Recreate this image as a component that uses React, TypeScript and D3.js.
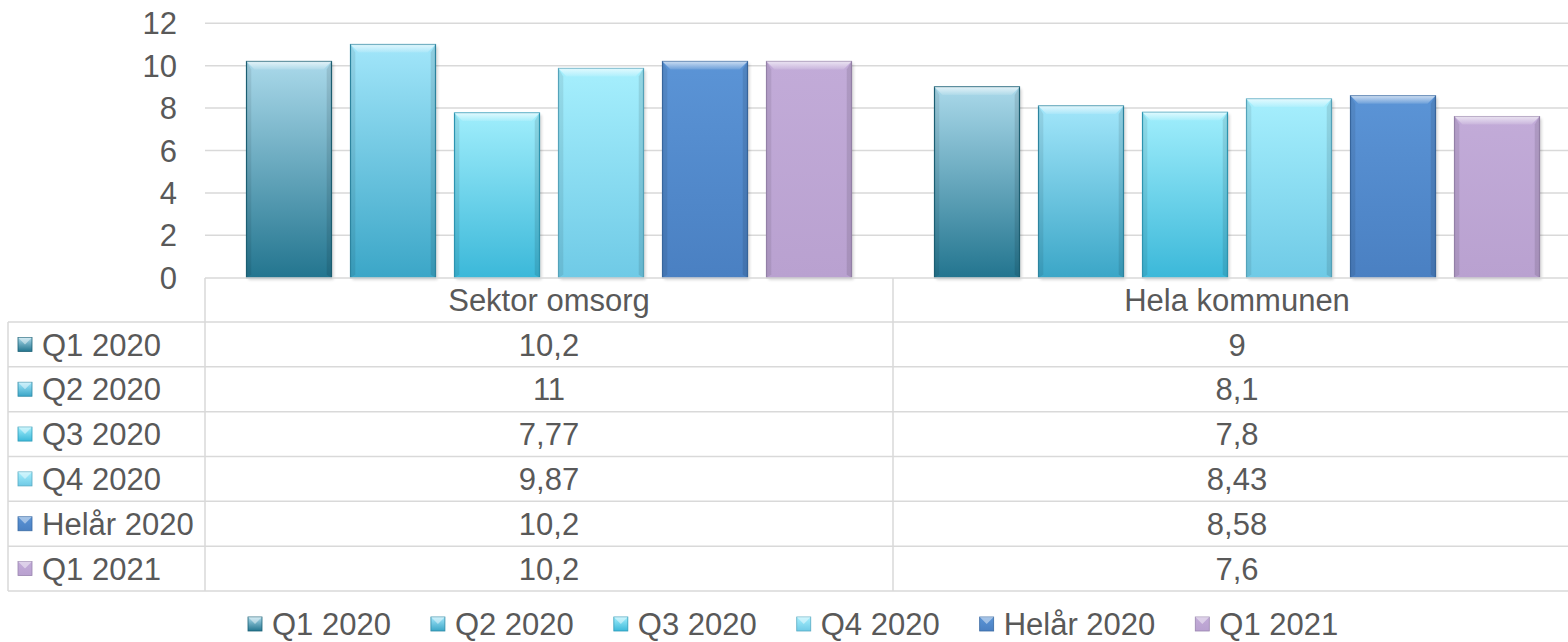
import React from "react";
import * as d3 from "d3";

const categories = ["Sektor omsorg", "Hela kommunen"];
const series = ["Q1 2020", "Q2 2020", "Q3 2020", "Q4 2020", "Helår 2020", "Q1 2021"];
const sektorOmsorg = [10.2, 11, 7.77, 9.87, 10.2, 10.2];
const helaKommunen = [9, 8.1, 7.8, 8.43, 8.58, 7.6];
const valueLabels = [
  ["10,2", "9"],
  ["11", "8,1"],
  ["7,77", "7,8"],
  ["9,87", "8,43"],
  ["10,2", "8,58"],
  ["10,2", "7,6"],
];
const yTicks = [0, 2, 4, 6, 8, 10, 12];

const colorsTop = ["#aad9ea", "#a2e6fa", "#a0eefc", "#a6effd", "#5b94d6", "#c2abd8"];
const colorsBottom = ["#23758f", "#3ba6c7", "#3bb8d9", "#6fcae6", "#4a80c2", "#b9a1d0"];
const colorsStroke = ["#1d6277", "#2f8aa6", "#2f9bb8", "#58aac2", "#3a6aa3", "#9a86ae"];

const W = 1568;
const H = 642;
const FONT = "'Liberation Sans', Arial, sans-serif";
const TEXT = "#595959";
const GRID = "#d9d9d9";

export default function App() {
  const plotLeft = 205;
  const plotRight = 1581;
  const y = d3.scaleLinear().domain([0, 12]).range([277.7, 23.3]);
  const x0 = d3.scaleBand<string>().domain(categories).range([plotLeft, plotRight]).padding(0);
  const x1 = d3
    .scaleBand<string>()
    .domain(series)
    .range([0, x0.bandwidth()])
    .paddingInner(0.1827)
    .paddingOuter(0.399);

  const dataByCat = [sektorOmsorg, helaKommunen];

  const tableTop = 278;
  const headerBottom = 322;
  const rowH = (591 - headerBottom) / series.length;
  const rowY = d3.range(series.length + 1).map((i) => headerBottom + i * rowH);
  const tableLeft = 8;

  // legend layout
  const legendY = 624;
  const legendFont = 31;
  const measure = (s: string) => {
    const w: Record<string, number> = {
      Q: 0.778, "1": 0.556, "2": 0.556, "0": 0.556, "3": 0.556, "4": 0.556, " ": 0.278,
      H: 0.722, e: 0.556, l: 0.222, "å": 0.556, r: 0.333,
    };
    return s.split("").reduce((a, c) => a + (w[c] ?? 0.556), 0) * legendFont;
  };
  const iconW = 15;
  const iconGap = 9;
  const itemGap = 40;
  const itemWidths = series.map((s) => iconW + iconGap + measure(s));
  const legendStart = 248;
  const legendX: number[] = [];
  let acc = legendStart;
  itemWidths.forEach((w) => {
    legendX.push(acc);
    acc += w + itemGap;
  });

  const Icon = ({ x, yc, i }: { x: number; yc: number; i: number }) => {
    const s = 14;
    const top = yc - s / 2;
    return (
      <g>
        <rect x={x} y={top} width={s} height={s} fill={`url(#grad${i})`} stroke={colorsStroke[i]} strokeWidth={0.8} />
        <polygon
          points={`${x},${top} ${x + s},${top} ${x + s / 2},${top + s / 2}`}
          fill="#ffffff"
          opacity={0.45}
        />
      </g>
    );
  };

  return (
    <svg width={W} height={H} style={{ position: "absolute", left: 0, top: 0, background: "#fff" }} fontFamily={FONT}>
      <defs>
        {series.map((s, i) => (
          <linearGradient key={s} id={`grad${i}`} x1="0" y1="0" x2="0" y2="1">
            <stop offset="0%" stopColor={colorsTop[i]} />
            <stop offset="100%" stopColor={colorsBottom[i]} />
          </linearGradient>
        ))}
        <linearGradient id="hl" x1="0" y1="0" x2="0" y2="1">
          <stop offset="0%" stopColor="#fff" stopOpacity={0.9} />
          <stop offset="100%" stopColor="#fff" stopOpacity={0.15} />
        </linearGradient>
        <filter id="sh" x="-10%" y="-10%" width="120%" height="120%">
          <feGaussianBlur stdDeviation="1.5" />
        </filter>
      </defs>

      {yTicks.filter((t) => t > 0).map((t) => (
        <line key={t} x1={plotLeft} x2={plotRight} y1={y(t)} y2={y(t)} stroke={GRID} strokeWidth={1.5} />
      ))}

      {yTicks.map((t) => (
        <text key={t} x={177} y={y(t)} dy="0.36em" textAnchor="end" fontSize={31} fill={TEXT}>
          {t}
        </text>
      ))}

      {categories.map((c, ci) => (
        <g key={c} transform={`translate(${x0(c)},0)`}>
          {series.map((s, si) => {
            const v = dataByCat[ci][si];
            const bx = x1(s) as number;
            const bw = x1.bandwidth();
            const by = y(v);
            const bh = y(0) - by;
            const b = 8;
            return (
              <g key={s}>
                <rect x={bx + 2} y={by + 2} width={bw} height={bh} fill="#000" opacity={0.18} filter="url(#sh)" />
                <rect x={bx} y={by} width={bw} height={bh} fill={`url(#grad${si})`} stroke={colorsStroke[si]} strokeWidth={1.2} />
                <polygon
                  points={`${bx},${by} ${bx + bw},${by} ${bx + bw - b},${by + b} ${bx + b},${by + b}`}
                  fill="url(#hl)"
                  opacity={0.75}
                />
                <polygon
                  points={`${bx},${by} ${bx + b * 0.6},${by + b} ${bx + b * 0.6},${by + bh - 3} ${bx},${by + bh}`}
                  fill="#000"
                  opacity={0.08}
                />
                <polygon
                  points={`${bx + bw},${by} ${bx + bw - b * 0.6},${by + b} ${bx + bw - b * 0.6},${by + bh - 3} ${bx + bw},${by + bh}`}
                  fill="#000"
                  opacity={0.1}
                />
              </g>
            );
          })}
        </g>
      ))}

      <g stroke={GRID} strokeWidth={1.5}>
        <line x1={plotLeft} x2={plotRight} y1={tableTop} y2={tableTop} />
        {rowY.map((ry, i) => (
          <line key={i} x1={tableLeft} x2={plotRight} y1={ry} y2={ry} />
        ))}
        <line x1={tableLeft} x2={tableLeft} y1={headerBottom} y2={rowY[rowY.length - 1]} />
        <line x1={plotLeft} x2={plotLeft} y1={tableTop} y2={rowY[rowY.length - 1]} />
        <line x1={x0(categories[1])} x2={x0(categories[1])} y1={tableTop} y2={rowY[rowY.length - 1]} />
      </g>

      {categories.map((c) => (
        <text
          key={c}
          x={(x0(c) as number) + x0.bandwidth() / 2}
          y={(tableTop + headerBottom) / 2}
          dy="0.36em"
          textAnchor="middle"
          fontSize={31}
          fill={TEXT}
        >
          {c}
        </text>
      ))}

      {series.map((s, si) => {
        const yc = rowY[si] + rowH / 2;
        return (
          <g key={s}>
            <Icon x={18} yc={yc} i={si} />
            <text x={42} y={yc} dy="0.36em" fontSize={31} fill={TEXT}>
              {s}
            </text>
            {categories.map((c, ci) => (
              <text
                key={c}
                x={(x0(c) as number) + x0.bandwidth() / 2}
                y={yc}
                dy="0.36em"
                textAnchor="middle"
                fontSize={31}
                fill={TEXT}
              >
                {valueLabels[si][ci]}
              </text>
            ))}
          </g>
        );
      })}

      {series.map((s, si) => (
        <g key={s}>
          <Icon x={legendX[si]} yc={legendY} i={si} />
          <text x={legendX[si] + iconW + iconGap} y={legendY} dy="0.36em" fontSize={legendFont} fill={TEXT}>
            {s}
          </text>
        </g>
      ))}
    </svg>
  );
}
